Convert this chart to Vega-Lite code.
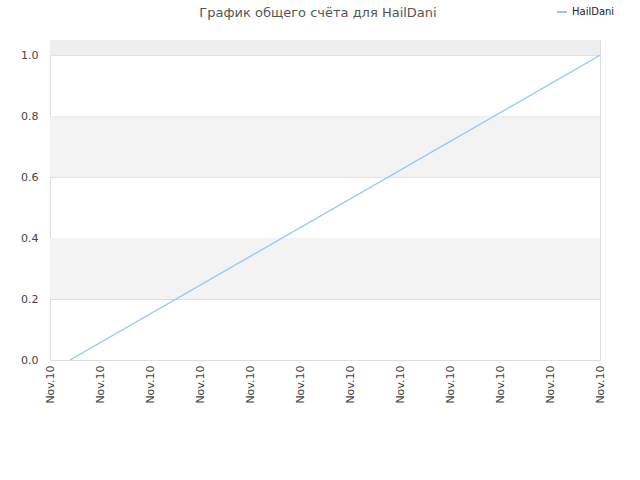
{
  "$schema": "https://vega.github.io/schema/vega-lite/v6.json",
  "width": 550,
  "height": 320,
  "autosize": {"type": "none"},
  "padding": {"left": 50, "top": 40, "right": 40, "bottom": 120},
  "background": "white",
  "title": {
    "text": "График общего счёта для HailDani",
    "anchor": "middle",
    "dx": -7,
    "offset": -14,
    "fontSize": 13,
    "fontWeight": "normal",
    "font": "DejaVu Sans",
    "color": "#555555"
  },
  "layer": [
    {
      "data": {"values": [
        {"lo": 0.2, "hi": 0.4, "shade": "a"},
        {"lo": 0.6, "hi": 0.8, "shade": "a"},
        {"lo": 1.0, "hi": 1.05, "shade": "b"}
      ]},
      "mark": {"type": "rect"},
      "encoding": {
        "y": {"field": "lo", "type": "quantitative", "scale": {"domain": [0, 1.05], "nice": false}},
        "y2": {"field": "hi"},
        "fill": {"field": "shade", "type": "nominal", "scale": {"domain": ["a", "b"], "range": ["#f3f3f3", "#eeeeee"]}, "legend": null}
      }
    },
    {
      "data": {"values": [
        {"t": 0.4, "score": 0, "player": "HailDani"},
        {"t": 11, "score": 1, "player": "HailDani"}
      ]},
      "mark": {"type": "line", "strokeWidth": 1.3, "clip": true},
      "encoding": {
        "x": {
          "field": "t", "type": "quantitative",
          "scale": {"domain": [0, 11], "nice": false, "zero": false},
          "axis": {
            "title": null, "values": [0, 1, 2, 3, 4, 5, 6, 7, 8, 9, 10, 11],
            "labelExpr": "'Nov.10'", "labelAngle": -90, "labelAlign": "right", "labelBaseline": "middle",
            "labelPadding": 5, "ticks": false, "grid": false, "domain": false,
            "labelFont": "DejaVu Sans", "labelFontSize": 11, "labelColor": "#444444"
          }
        },
        "y": {
          "field": "score", "type": "quantitative",
          "scale": {"domain": [0, 1.05], "nice": false},
          "axis": {
            "title": null, "values": [0, 0.2, 0.4, 0.6, 0.8, 1.0], "format": ".1f",
            "ticks": false, "domain": false, "gridColor": "#dddddd", "labelPadding": 12,
            "labelFont": "DejaVu Sans", "labelFontSize": 11, "labelColor": "#444444"
          }
        },
        "color": {
          "field": "player", "type": "nominal",
          "scale": {"range": ["#94c6f6"]},
          "legend": {
            "title": null, "orient": "none", "legendX": 506, "legendY": -34,
            "symbolType": "stroke", "symbolSize": 100, "symbolStrokeWidth": 2,
            "labelFont": "DejaVu Sans", "labelFontSize": 10, "labelColor": "#222222"
          }
        }
      }
    }
  ],
  "config": {
    "view": {"stroke": "#dddddd"}
  }
}
